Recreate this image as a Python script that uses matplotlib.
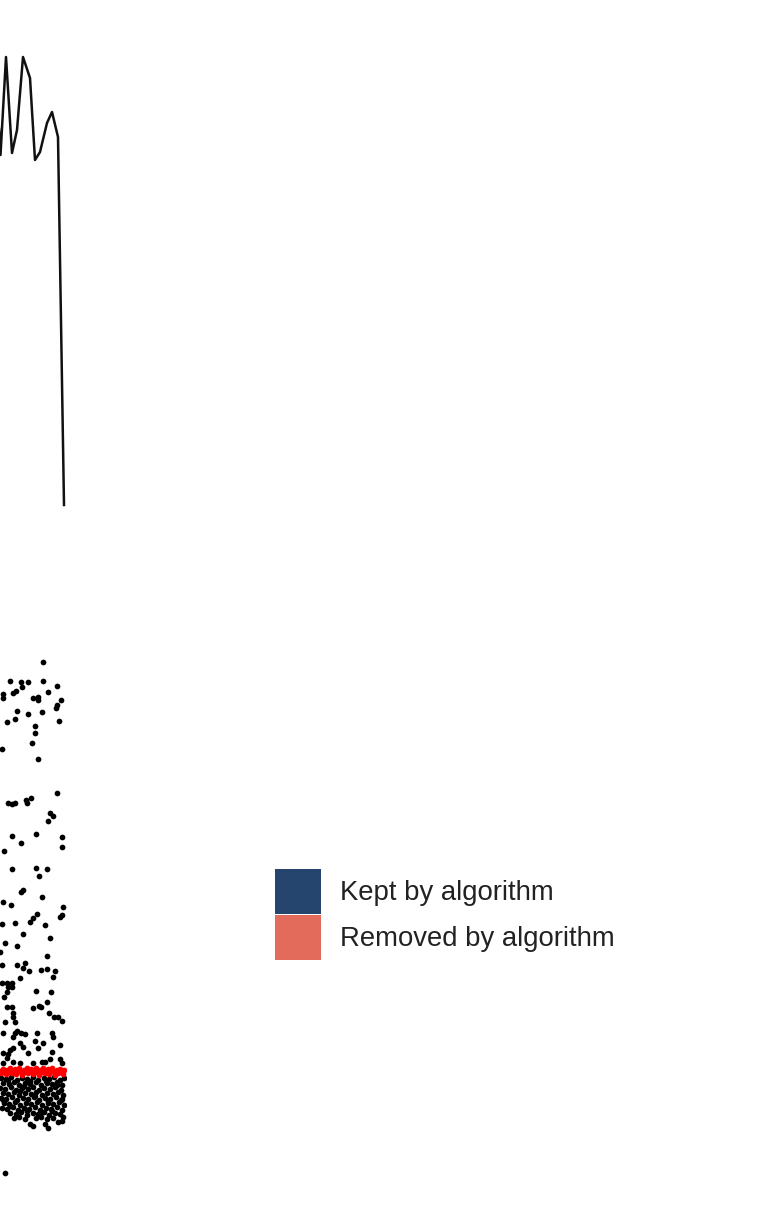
import matplotlib
matplotlib.use("Agg")
from matplotlib import pyplot as plt
from matplotlib.patches import Patch

# --- line panel (right end of the series) ---
line_x = [-5, 0.5, 6, 12, 17, 23, 30, 35, 40, 47, 52, 58, 64]
line_y = [460, 365, 463, 367, 390, 463, 442, 360, 368, 397, 408, 383, 15]

# --- scatter panel: kept points (position, depth) ---
kept = [
    (43, 662), (10, 681), (21, 682), (28, 682), (43, 681), (57, 686), (22, 687), (16, 691),
    (13, 693), (3, 694), (3, 698), (48, 692), (33, 698), (38, 697), (38, 700), (61, 700),
    (57, 705), (56, 708), (17, 711), (42, 712), (28, 714), (15, 719), (7, 722), (59, 721),
    (35, 726), (35, 733), (32, 743), (2, 749), (38, 759),
    (57, 793), (8, 803), (12, 804), (15, 803), (26, 800), (27, 803), (31, 798), (50, 813),
    (53, 816), (48, 821), (12, 836), (36, 834), (62, 837), (21, 843), (62, 847), (4, 851),
    (12, 869), (36, 868), (47, 869), (39, 876), (23, 890), (21, 892), (42, 897), (3, 902),
    (11, 905), (63, 907),
    (62, 915), (60, 917), (37, 914), (33, 918), (30, 922), (2, 924), (15, 923), (45, 925),
    (23, 934), (50, 938), (5, 943), (17, 946), (0, 952), (47, 956), (2, 965), (17, 965),
    (25, 963), (23, 968), (29, 971), (41, 970), (47, 969), (55, 971), (53, 977), (20, 978),
    (2, 983), (7, 983), (12, 983), (8, 987), (12, 987), (7, 992), (4, 997), (36, 991),
    (51, 992), (47, 1002), (41, 1007), (12, 1007), (7, 1007), (33, 1008),
    (39, 1006), (13, 1013), (13, 1017), (49, 1013), (54, 1017), (58, 1017), (62, 1021),
    (5, 1022), (15, 1022), (3, 1033), (15, 1033), (17, 1031), (21, 1033), (25, 1034),
    (37, 1033), (52, 1033), (53, 1037), (13, 1037), (20, 1043), (35, 1041), (43, 1043),
    (60, 1045), (13, 1048), (10, 1050), (23, 1047), (38, 1048), (52, 1052), (3, 1053),
    (28, 1053), (8, 1054), (7, 1058), (50, 1059), (45, 1062), (60, 1059), (3, 1063),
    (13, 1062), (20, 1063), (33, 1063), (42, 1062), (62, 1063),
    # dense band under the threshold
    (1, 1078), (6, 1079), (11, 1077), (17, 1080), (22, 1078), (27, 1079), (33, 1077),
    (38, 1080), (44, 1078), (49, 1079), (54, 1077), (60, 1080), (64, 1078),
    (3, 1083), (9, 1084), (14, 1082), (19, 1085), (25, 1083), (30, 1084), (36, 1082),
    (41, 1085), (47, 1083), (52, 1084), (57, 1082), (62, 1085),
    (0, 1088), (5, 1089), (11, 1087), (16, 1090), (22, 1088), (28, 1089), (33, 1087),
    (39, 1090), (44, 1088), (50, 1089), (55, 1087), (61, 1090),
    (3, 1093), (8, 1094), (14, 1092), (19, 1095), (25, 1093), (31, 1094), (36, 1092),
    (42, 1095), (47, 1093), (53, 1094), (58, 1092), (63, 1095),
    (1, 1098), (6, 1099), (12, 1097), (17, 1100), (23, 1098), (28, 1099), (34, 1097),
    (39, 1100), (45, 1098), (50, 1099), (56, 1097), (61, 1100),
    (4, 1103), (9, 1104), (15, 1102), (20, 1105), (26, 1103), (31, 1104), (37, 1102),
    (42, 1105), (48, 1103), (53, 1104), (59, 1102), (64, 1105),
    (2, 1108), (7, 1109), (13, 1107), (18, 1110), (24, 1108), (29, 1109), (35, 1107),
    (40, 1110), (46, 1108), (51, 1109), (57, 1107), (62, 1110),
    (10, 1113), (16, 1114), (21, 1112), (27, 1115), (33, 1113), (38, 1114), (44, 1112),
    (49, 1115), (55, 1113), (60, 1114),
    (14, 1118), (19, 1117), (25, 1119), (36, 1118), (41, 1117), (47, 1119), (53, 1118),
    (63, 1117),
    (8, 1080), (30, 1081), (46, 1081), (57, 1085), (20, 1091), (35, 1096), (48, 1101),
    (10, 1106), (27, 1111), (52, 1111), (40, 1115), (62, 1099), (3, 1100), (24, 1086),
    (30, 1124), (33, 1126), (45, 1124), (48, 1128), (58, 1122), (62, 1121), (5, 1173),
]

# points at the threshold
removed = [
    (0, 1071), (1, 1073), (3, 1069), (4, 1072), (6, 1074), (7, 1070), (9, 1072), (10, 1068),
    (12, 1073), (13, 1071), (15, 1069), (16, 1074), (18, 1071), (19, 1068), (21, 1072),
    (22, 1075), (24, 1070), (25, 1072), (27, 1068), (28, 1073), (30, 1071), (31, 1069),
    (33, 1074), (34, 1071), (36, 1068), (37, 1072), (39, 1075), (40, 1070), (42, 1072),
    (43, 1068), (45, 1073), (46, 1071), (48, 1069), (49, 1074), (51, 1071), (52, 1068),
    (54, 1072), (55, 1075), (57, 1070), (58, 1073), (60, 1069), (61, 1072), (63, 1074),
    (64, 1070),
]

legend_labels = ["Kept by algorithm", "Removed by algorithm"]
legend_colors = ["#25456f", "#e36b5b"]

W, H = 770, 1212
fig = plt.figure(figsize=(W / 100, H / 100), dpi=100)

# top line panel, only its right end is on the page
ax1 = fig.add_axes([0, 1 - 520 / H, 66 / W, 480 / H])
ax1.plot(line_x, line_y, color="#111111", lw=1.8)
ax1.set_xlim(0, 66)
ax1.set_ylim(0, 480)
ax1.axis("off")

# scatter panel
ax2 = fig.add_axes([0, 1 - 1190 / H, 66 / W, 540 / H])
ax2.scatter([p[0] for p in kept], [p[1] for p in kept], s=17, color="black", lw=0)
ax2.scatter([p[0] for p in removed], [p[1] for p in removed], s=17, color="#ff0000", lw=0)
ax2.set_xlim(0, 66)
ax2.set_ylim(1190, 650)
ax2.axis("off")

handles = [Patch(facecolor=c, edgecolor="none") for c in legend_colors]
fig.legend(handles, legend_labels, loc="upper left",
           bbox_to_anchor=(275 / W, 1 - 869 / H),
           frameon=False, borderpad=0, borderaxespad=0,
           handlelength=1.67, handleheight=2.14, handletextpad=0.69,
           labelspacing=0.03,
           prop={"family": "Liberation Sans", "size": 19.8},
           labelcolor="#222222")

fig.savefig("out.png", dpi=100, facecolor="white")
